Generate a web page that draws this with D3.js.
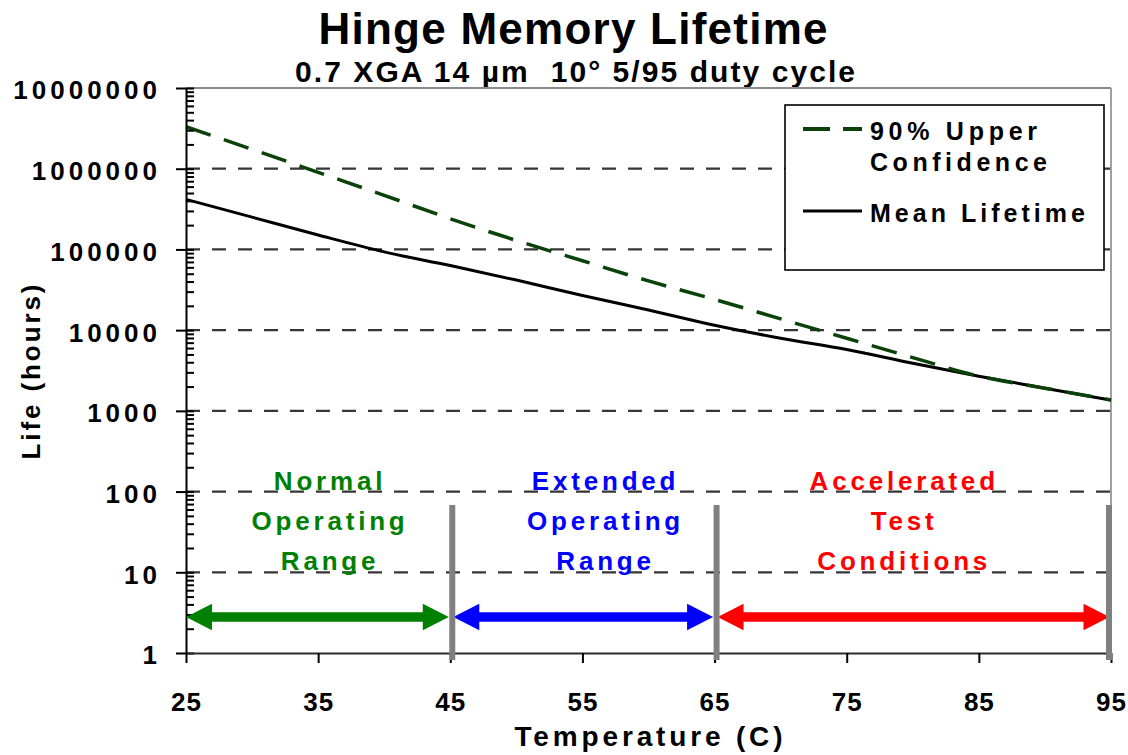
<!DOCTYPE html>
<html>
<head>
<meta charset="utf-8">
<script src="https://cdn.jsdelivr.net/npm/d3@7"></script>
<style>
  html, body { margin: 0; padding: 0; background: #fff; }
  svg { display: block; font-family: "Liberation Sans", Arial, Helvetica, sans-serif; font-weight: bold; }
</style>
</head>
<body>
<svg id="chart" width="1128" height="755"></svg>
<script>
// ---- data ----
const temperatures = [25, 30, 35, 40, 45, 50, 55, 60, 65, 70, 75, 80, 85, 90, 95];
const meanLifetime = [417000, 251000, 151000, 93300, 63100, 41700, 26900, 17800, 11500, 7940, 5750, 3890, 2690, 1910, 1360];
const upperConfidence = [3310000, 1740000, 902000, 468000, 240000, 129000, 72400, 40700, 24000, 13800, 7940, 4570, 2690, 1910, 1360];

const yTickValues = [1, 10, 100, 1000, 10000, 100000, 1000000, 10000000];
const yTickLabels = ["1", "10", "100", "1000", "10000", "100000", "1000000", "10000000"];
const xTickValues = [25, 35, 45, 55, 65, 75, 85, 95];
const xTickLabels = ["25", "35", "45", "55", "65", "75", "85", "95"];

const rangeBounds = [25, 45, 65, 95];
const rangeNames = [
  ["Normal", "Operating", "Range"],
  ["Extended", "Operating", "Range"],
  ["Accelerated", "Test", "Conditions"]
];
const seriesNames = [["90% Upper", "Confidence"], ["Mean Lifetime"]];

const titleText = "Hinge Memory Lifetime";
const subtitleText = "0.7 XGA 14 \u00b5m  10\u00b0 5/95 duty cycle";
const xTitle = "Temperature (C)";
const yTitle = "Life (hours)";

// ---- layout & style ----
const plot = { left: 186, right: 1111, top: 88, bottom: 653 };
const rangeColors = ["#008000", "#0000ff", "#ff0000"];
const rangeLabelCenterT = [35.75, 56.6, 79.2];
const upperColor = "#0a420a";

const svg = d3.select("#chart");
svg.append("rect").attr("width", 1128).attr("height", 755).attr("fill", "#fff");

const x = d3.scaleLinear().domain([25, 95]).range([plot.left, plot.right]);
const y = d3.scaleLog().domain([1, 1e7]).range([plot.bottom, plot.top]);

// ---- titles ----
svg.append("text")
  .attr("x", 573).attr("y", 44)
  .attr("text-anchor", "middle")
  .attr("font-size", 44)
  .attr("textLength", 509).attr("lengthAdjust", "spacing")
  .text(titleText);

svg.append("text")
  .attr("x", 575).attr("y", 82)
  .attr("text-anchor", "middle")
  .attr("font-size", 30)
  .attr("textLength", 560).attr("lengthAdjust", "spacing")
  .style("white-space", "pre")
  .text(subtitleText);

// ---- gridlines (dashed) ----
const gridVals = yTickValues.filter(v => v > 1 && v < 1e7);
svg.append("g").selectAll("line").data(gridVals).join("line")
  .attr("x1", plot.left).attr("x2", plot.right)
  .attr("y1", d => y(d)).attr("y2", d => y(d))
  .attr("stroke", "#363636").attr("stroke-width", 2.2)
  .attr("stroke-dasharray", "14 12");

// ---- plot border (top and right) ----
svg.append("line")
  .attr("x1", plot.left).attr("x2", plot.right)
  .attr("y1", plot.top).attr("y2", plot.top)
  .attr("stroke", "#8a8a8a").attr("stroke-width", 2);
svg.append("line")
  .attr("x1", plot.right).attr("x2", plot.right)
  .attr("y1", plot.top).attr("y2", plot.bottom)
  .attr("stroke", "#a0a0a0").attr("stroke-width", 2);

// ---- series ----
const line = d3.line().x(d => x(d[0])).y(d => y(d[1])).curve(d3.curveMonotoneX);
const meanPts = temperatures.map((t, i) => [t, meanLifetime[i]]);
const upperPts = temperatures.map((t, i) => [t, upperConfidence[i]]);

svg.append("path").datum(meanPts)
  .attr("d", line).attr("fill", "none")
  .attr("stroke", "#000").attr("stroke-width", 3);

svg.append("path").datum(upperPts)
  .attr("d", line).attr("fill", "none")
  .attr("stroke", upperColor).attr("stroke-width", 3.5)
  .attr("stroke-dasharray", "26 14");

// ---- y axis ----
const yAxis = d3.axisLeft(y)
  .tickValues(yTickValues)
  .tickFormat((d, i) => yTickLabels[i])
  .tickSizeInner(10).tickSizeOuter(0).tickPadding(15);
const yG = svg.append("g").attr("transform", `translate(${plot.left},0)`).call(yAxis);
yG.select(".domain").attr("stroke", "#000").attr("stroke-width", 2);
yG.selectAll(".tick line").attr("stroke", "#000").attr("stroke-width", 2);
yG.selectAll(".tick text")
  .attr("fill", "#000")
  .attr("font-size", 26).attr("font-family", null)
  .attr("letter-spacing", 4)
  .attr("dy", "0.42em");

// inner ticks: decades plus 2..9 minors
const minorVals = [];
for (let k = 0; k < 7; k++) for (let m = 2; m <= 9; m++) minorVals.push(m * Math.pow(10, k));
const yInner = svg.append("g").attr("transform", `translate(${plot.left},0)`)
  .call(d3.axisRight(y).tickValues(yTickValues.concat(minorVals)).tickSize(8).tickFormat(""));
yInner.select(".domain").remove();
yInner.selectAll(".tick line").attr("stroke", "#000").attr("stroke-width", 2);

// ---- x axis ----
const xAxis = d3.axisBottom(x)
  .tickValues(xTickValues)
  .tickFormat((d, i) => xTickLabels[i])
  .tickSizeInner(10).tickSizeOuter(0);
const xG = svg.append("g").attr("transform", `translate(0,${plot.bottom})`).call(xAxis);
xG.select(".domain").attr("stroke", "#2a2a2a").attr("stroke-width", 2.2);
xG.selectAll(".tick line").attr("stroke", "#000").attr("stroke-width", 2);
xG.selectAll(".tick text")
  .attr("fill", "#000")
  .attr("font-size", 26).attr("font-family", null)
  .attr("letter-spacing", 1)
  .attr("y", 58).attr("dy", null);

// axis titles
svg.append("text")
  .attr("x", (plot.left + plot.right) / 2).attr("y", 746)
  .attr("text-anchor", "middle")
  .attr("font-size", 28)
  .attr("textLength", 268).attr("lengthAdjust", "spacing")
  .text(xTitle);

svg.append("text")
  .attr("transform", "translate(40,372) rotate(-90)")
  .attr("text-anchor", "middle")
  .attr("font-size", 26)
  .attr("textLength", 175).attr("lengthAdjust", "spacing")
  .text(yTitle);

// ---- operating ranges: double-headed arrows, labels, dividers ----
const arrowY = 617, shaftHalf = 4.7, headLen = 26, headHalf = 13.3;
function arrowPath(x1, x2) {
  return [
    [x1, arrowY], [x1 + headLen, arrowY - headHalf], [x1 + headLen, arrowY - shaftHalf],
    [x2 - headLen, arrowY - shaftHalf], [x2 - headLen, arrowY - headHalf], [x2, arrowY],
    [x2 - headLen, arrowY + headHalf], [x2 - headLen, arrowY + shaftHalf],
    [x1 + headLen, arrowY + shaftHalf], [x1 + headLen, arrowY + headHalf]
  ].map(p => p.join(",")).join(" ");
}

const ranges = rangeNames.map((names, i) => ({
  from: rangeBounds[i], to: rangeBounds[i + 1], names, color: rangeColors[i], labelT: rangeLabelCenterT[i]
}));

svg.append("g").selectAll("polygon").data(ranges).join("polygon")
  .attr("points", (d, i) => arrowPath(x(d.from) + (i === 0 ? 0 : 3), x(d.to) - 1.5))
  .attr("fill", d => d.color);

const labelBaselines = [490, 530, 570];
ranges.forEach(r => {
  svg.append("g").selectAll("text").data(r.names).join("text")
    .attr("x", x(r.labelT) + 2).attr("y", (d, j) => labelBaselines[j])
    .attr("text-anchor", "middle")
    .attr("font-size", 26)
    .attr("letter-spacing", 3.8)
    .attr("fill", r.color)
    .text(d => d);
});

svg.append("g").selectAll("line").data(rangeBounds.slice(1)).join("line")
  .attr("x1", d => x(d) + (d === 95 ? -2 : 2)).attr("x2", d => x(d) + (d === 95 ? -2 : 2))
  .attr("y1", 505).attr("y2", 660)
  .attr("stroke", "#808080").attr("stroke-width", 6);

// ---- legend ----
const lg = svg.append("g");
lg.append("rect")
  .attr("x", 785).attr("y", 105).attr("width", 319).attr("height", 165)
  .attr("fill", "#fff").attr("stroke", "#000").attr("stroke-width", 1.6);

lg.append("line")
  .attr("x1", 803).attr("x2", 862).attr("y1", 129).attr("y2", 129)
  .attr("stroke", upperColor).attr("stroke-width", 4)
  .attr("stroke-dasharray", "27 13");
lg.append("line")
  .attr("x1", 803).attr("x2", 862).attr("y1", 211).attr("y2", 211)
  .attr("stroke", "#000").attr("stroke-width", 3);

const legendRows = [
  { text: seriesNames[0][0], y: 140, w: 167 },
  { text: seriesNames[0][1], y: 171, w: 177 },
  { text: seriesNames[1][0], y: 222, w: 215 }
];
lg.selectAll("text.lt").data(legendRows).join("text")
  .attr("class", "lt")
  .attr("x", 870).attr("y", d => d.y)
  .attr("font-size", 25)
  .attr("textLength", d => d.w).attr("lengthAdjust", "spacing")
  .text(d => d.text);
</script>
</body>
</html>
